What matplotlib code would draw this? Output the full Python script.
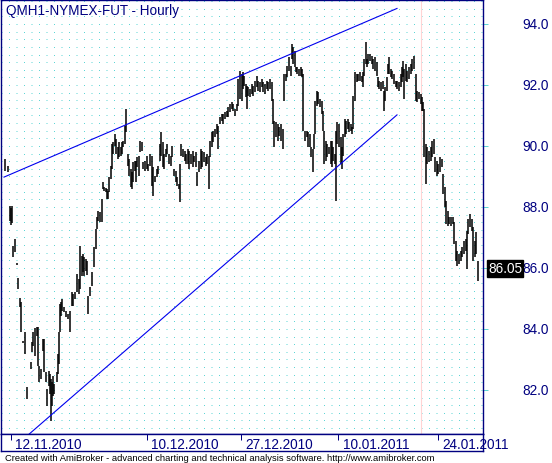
import matplotlib
matplotlib.use('Agg')
import matplotlib.pyplot as plt
from matplotlib.ticker import MultipleLocator

# ---------------- data (hourly bars) ----------------
bar = [0, 3, 5, 6, 7, 8, 10, 12, 13, 15,
       16, 18, 20, 22, 26, 27, 28, 30, 32, 33,
       34, 36, 38, 39, 41, 42, 44, 45, 46, 47,
       48, 49, 52, 53, 54, 55, 56, 57, 59, 61,
       63, 65, 67, 68, 70, 72, 74, 75, 77, 78,
       79, 81, 82, 83, 85, 87, 89, 91, 92, 93,
       95, 97, 98, 99, 101, 102, 103, 104, 106, 107,
       108, 110, 111, 113, 114, 116, 117, 118, 120, 121,
       123, 124, 126, 127, 128, 130, 131, 132, 134, 135,
       137, 138, 140, 142, 143, 145, 147, 148, 150, 152,
       153, 155, 156, 158, 159, 161, 162, 164, 166, 167,
       169, 171, 172, 174, 175, 176, 178, 180, 181, 183,
       184, 186, 188, 189, 191, 192, 194, 196, 197, 199,
       201, 202, 204, 205, 207, 208, 210, 212, 213, 215,
       217, 218, 220, 222, 223, 225, 227, 228, 230, 232,
       233, 235, 237, 238, 239, 241, 242, 243, 245, 247,
       248, 250, 252, 253, 255, 257, 258, 260, 262, 263,
       265, 267, 268, 269, 271, 273, 274, 276, 278, 279,
       281, 282, 284, 286, 287, 288, 290, 291, 292, 294,
       296, 297, 298, 300, 302, 303, 305, 306, 308, 309,
       310, 312, 313, 315, 317, 318, 319, 321, 322, 324,
       326, 327, 328, 330, 331, 332, 334, 336, 337, 338,
       340, 341, 343, 344, 346, 347, 348, 350, 352, 353,
       355, 357, 358, 359, 361, 362, 363, 365, 367, 368,
       370, 372, 373, 374, 376, 378, 379, 380, 382, 383,
       384, 386, 387, 389, 391, 392, 394, 396, 397, 398,
       399, 401, 402, 404, 406, 407, 409, 411, 412, 414,
       416, 417, 418, 419, 421, 422, 424, 426, 427, 429,
       430, 432, 433, 435, 437, 438, 440, 441, 443, 444,
       446, 448, 449, 451, 452, 454, 456, 457, 459, 461,
       462, 463, 465, 467, 468, 470, 471, 473]

high = [89.57, 89.34, 88.03, 87.97, 88.03, 86.72, 86.95, 86.16, 85.67, 85.02,
        84.88, 83.60, 83.90, 82.10, 82.92, 83.57, 83.90, 84.03, 84.07, 84.07,
        82.79, 82.69, 83.67, 83.67, 82.59, 82.03, 82.62, 82.52, 82.36, 82.26,
        82.46, 82.20, 82.59, 83.18, 83.90, 84.82, 84.88, 84.98, 84.72, 84.59,
        84.49, 84.59, 85.21, 85.15, 85.21, 85.80, 85.64, 86.72, 86.39, 86.46,
        86.36, 86.30, 86.23, 85.08, 85.38, 85.87, 86.69, 87.28, 87.67, 87.87,
        87.84, 88.26, 88.82, 88.66, 88.62, 88.59, 88.53, 88.98, 89.34, 90.07,
        90.13, 90.39, 90.23, 89.97, 90.13, 89.97, 90.13, 90.16, 90.66, 91.21,
        89.74, 89.57, 89.25, 89.15, 89.48, 89.51, 89.51, 89.64, 89.67, 90.16,
        90.13, 89.48, 89.51, 89.67, 89.41, 89.74, 89.67, 89.31, 89.02, 89.25,
        89.34, 90.07, 90.46, 90.13, 89.74, 89.90, 90.07, 89.74, 89.67, 90.00,
        89.25, 89.18, 88.98, 88.75, 89.41, 90.07, 89.90, 89.84, 89.74, 89.90,
        89.84, 89.74, 89.84, 89.67, 89.80, 89.15, 89.51, 89.90, 89.84, 89.80,
        89.64, 89.74, 89.67, 90.16, 90.46, 90.49, 90.56, 90.72, 90.66, 90.95,
        91.05, 91.05, 91.11, 91.15, 91.28, 91.38, 91.44, 91.38, 91.21, 91.38,
        92.20, 92.46, 92.36, 92.43, 92.30, 92.03, 91.97, 91.93, 91.87, 92.03,
        91.97, 92.13, 92.30, 92.13, 92.10, 92.20, 92.10, 92.03, 92.13, 92.10,
        92.20, 92.10, 91.54, 90.82, 90.79, 90.72, 90.62, 90.72, 90.56, 92.36,
        92.36, 92.62, 92.92, 92.62, 93.34, 93.25, 93.11, 92.59, 92.59, 92.52,
        92.59, 92.52, 92.36, 90.49, 90.49, 90.46, 90.39, 89.97, 89.90, 90.39,
        91.48, 91.80, 91.77, 91.54, 91.48, 91.15, 90.49, 90.16, 90.07, 89.97,
        90.16, 90.16, 89.97, 89.74, 90.49, 90.79, 90.72, 90.30, 89.97, 90.39,
        90.89, 90.82, 90.89, 90.79, 90.72, 90.62, 91.64, 92.43, 92.36, 92.36,
        92.43, 92.30, 92.43, 92.85, 93.41, 92.85, 93.02, 93.02, 92.95, 92.85,
        92.92, 92.75, 92.26, 92.13, 92.10, 92.13, 91.80, 91.93, 92.26, 92.69,
        92.92, 92.52, 92.46, 92.36, 92.13, 92.13, 92.10, 92.36, 92.59, 92.79,
        92.52, 92.69, 92.46, 92.59, 92.69, 92.85, 92.95, 92.36, 91.80, 91.77,
        91.70, 91.61, 91.44, 91.21, 90.07, 89.97, 89.84, 89.97, 90.16, 90.23,
        89.64, 89.51, 89.41, 89.64, 89.57, 89.08, 88.66, 88.20, 87.87, 87.67,
        87.67, 87.67, 87.51, 86.89, 86.56, 86.46, 86.56, 86.69, 86.89, 86.95,
        87.21, 87.61, 87.77, 87.61, 87.34, 86.89, 87.18, 86.23]

low = [89.18, 89.15, 87.54, 87.41, 87.47, 86.36, 86.52, 86.10, 85.31, 84.72,
       83.90, 83.54, 83.18, 81.70, 82.69, 83.24, 83.44, 83.11, 83.77, 82.79,
       82.26, 82.36, 83.28, 82.59, 82.26, 81.47, 82.13, 81.87, 80.98, 81.47,
       81.80, 81.87, 82.26, 82.52, 82.85, 83.90, 84.43, 84.59, 84.56, 84.39,
       84.33, 83.90, 84.75, 84.75, 84.98, 85.21, 85.15, 85.31, 85.74, 85.87,
       85.74, 85.90, 85.77, 84.49, 85.08, 85.41, 86.03, 86.62, 87.28, 87.54,
       87.51, 87.51, 88.59, 88.53, 88.49, 88.26, 88.26, 88.49, 88.92, 89.25,
       89.74, 90.00, 89.74, 89.57, 89.64, 89.67, 89.74, 89.97, 90.07, 90.46,
       89.34, 89.02, 88.66, 88.59, 88.82, 89.18, 88.82, 89.31, 89.02, 89.80,
       89.84, 89.25, 89.18, 89.25, 89.18, 89.34, 88.69, 88.36, 88.82, 88.98,
       89.08, 89.51, 89.67, 89.31, 89.25, 89.64, 89.74, 89.41, 89.34, 89.64,
       89.02, 88.82, 88.69, 88.59, 88.16, 89.67, 89.64, 89.51, 89.41, 89.41,
       89.25, 89.41, 89.31, 89.48, 89.31, 88.69, 89.15, 89.25, 89.31, 89.48,
       89.34, 89.41, 88.59, 89.64, 89.97, 90.13, 90.30, 90.39, 89.90, 90.72,
       90.82, 90.72, 90.89, 90.95, 90.95, 91.11, 91.21, 91.15, 90.98, 91.15,
       91.31, 91.54, 91.48, 91.87, 91.97, 91.61, 91.21, 91.64, 91.61, 91.70,
       91.64, 91.77, 91.93, 91.80, 91.77, 91.93, 91.77, 91.70, 91.87, 91.80,
       91.87, 91.48, 90.72, 89.97, 90.30, 90.16, 90.33, 90.16, 89.90, 91.48,
       92.13, 92.26, 92.46, 92.30, 92.85, 92.69, 92.59, 92.43, 92.36, 92.30,
       92.30, 92.26, 90.49, 90.16, 90.30, 89.97, 89.97, 89.64, 89.15, 89.90,
       90.39, 91.31, 91.38, 91.28, 91.05, 90.49, 89.41, 89.51, 89.64, 89.74,
       89.41, 89.31, 89.51, 89.41, 88.20, 90.07, 89.97, 89.41, 89.25, 89.67,
       90.30, 90.39, 90.56, 90.46, 90.49, 90.39, 90.56, 91.48, 92.10, 92.13,
       92.13, 92.10, 91.93, 92.30, 92.69, 92.59, 92.69, 92.79, 92.69, 92.52,
       92.46, 92.30, 91.93, 91.87, 91.80, 91.87, 91.15, 91.48, 91.80, 92.36,
       92.36, 92.26, 92.20, 92.03, 91.93, 91.87, 91.80, 91.93, 92.10, 92.26,
       91.54, 92.13, 92.10, 92.20, 92.36, 92.46, 92.52, 91.48, 91.44, 91.54,
       91.38, 91.15, 91.15, 89.64, 88.75, 89.41, 89.48, 89.51, 89.64, 89.74,
       89.15, 89.02, 89.08, 89.15, 89.31, 88.43, 88.00, 87.44, 87.38, 87.44,
       87.38, 87.44, 86.79, 86.23, 86.07, 86.13, 86.23, 86.36, 86.46, 86.56,
       85.97, 87.11, 87.34, 87.21, 86.23, 86.36, 86.46, 85.56]

last_close = 86.05

upper_line_bar = [-1, 392]
upper_line_price = [88.98, 94.51]
lower_line_bar = [24, 392]
lower_line_price = [80.55, 91.02]

date_bars = [6, 142, 236, 333, 433]
date_labels = ['12.11.2010', '10.12.2010', '27.12.2010', '10.01.2011', '24.01.2011']
price_ticks = [82, 84, 86, 88, 90, 92, 94]
price_labels = ['82.0', '84.0', '86.0', '88.0', '90.0', '92.0', '94.0']
marker_bar = 416

title = 'QMH1-NYMEX-FUT - Hourly'
footer = ('Created with AmiBroker - advanced charting and technical analysis '
          'software. http://www.amibroker.com')

assert len(bar) == len(high) == len(low)

# ---------------- figure ----------------
plt.rcParams['font.family'] = ['Liberation Sans', 'DejaVu Sans']
W, H = 552, 464
NAVY = '#000080'
CYAN = '#5fd6d6'
FS = 9.8
PX = 72 / 100  # points per pixel

fig = plt.figure(figsize=(W / 100, H / 100), dpi=100, facecolor='white')

ax = fig.add_axes([1 / W, 29 / H, 482 / W, 434 / H])
ax.set_xlim(-4, 478)
ax.set_ylim(80.557, 94.787)

# dotted lattice grid
ax.yaxis.set_minor_locator(MultipleLocator(0.25))
ax.grid(which='both', axis='y', color=CYAN, linewidth=0.72,
        linestyle=(0, (1, 6.5)))
ax.set_axisbelow(True)

ax.set_xticks([])
ax.yaxis.tick_right()
ax.set_yticks(price_ticks)
ax.tick_params(axis='y', which='major', length=5 * PX, width=0.72, color=CYAN,
               labelright=False, labelleft=False)
ax.tick_params(axis='y', which='minor', length=0)
for s in ax.spines.values():
    s.set_color(NAVY)
    s.set_linewidth(1.0)

# price labels on the right, right-aligned
for p, lab in zip(price_ticks, price_labels):
    ax.annotate(lab, xy=(1, p), xycoords=('axes fraction', 'data'),
                xytext=(66 * PX, 0), textcoords='offset points', ha='right',
                va='center', fontsize=FS, color=NAVY, annotation_clip=False,
                zorder=5)

ax.axvline(marker_bar, color='#ffd4d4', linewidth=0.8, zorder=1)

ax.vlines(bar, low, high, colors='black', linewidth=1.1, zorder=3)

ax.plot(upper_line_bar, upper_line_price, color='#0000ee', linewidth=0.8, zorder=4)
ax.plot(lower_line_bar, lower_line_price, color='#0000ee', linewidth=0.8, zorder=4)

ax.annotate(f'{last_close:.2f}', xy=(1, last_close),
            xycoords=('axes fraction', 'data'), xytext=(5 * PX, -2 * PX),
            textcoords='offset points', ha='left', va='center',
            fontsize=FS, color='white', annotation_clip=False, zorder=10,
            bbox=dict(boxstyle='square,pad=0.08', facecolor='black',
                      edgecolor='black'))

# date strip
ax2 = fig.add_axes([1 / W, 12 / H, 482 / W, 17 / H])
ax2.set_xlim(ax.get_xlim())
ax2.set_ylim(0, 1)
ax2.set_yticks([])
ax2.set_xticks(date_bars)
ax2.tick_params(axis='x', top=True, bottom=False, direction='in', length=6 * PX,
                width=0.72, color=NAVY, labelbottom=False)
for s in ax2.spines.values():
    s.set_color(NAVY)
    s.set_linewidth(1.0)
for b, lab in zip(date_bars, date_labels):
    ax2.annotate(lab, xy=(b, 0), xycoords=('data', 'axes fraction'),
                 xytext=(4.5 * PX, 3 * PX), textcoords='offset points', ha='left',
                 va='baseline', fontsize=FS, color=NAVY, annotation_clip=False)

t_title = fig.text(6 / W, 1 - 4 / H, title, ha='left', va='top', fontsize=FS,
                   color=NAVY)
t_foot = fig.text(5 / W, 2.5 / H, footer, ha='left', va='baseline',
                  fontsize=6.3, color='black')

fig.canvas.draw()
r = fig.canvas.get_renderer()
w = t_foot.get_window_extent(r).width
t_foot.set_fontsize(6.3 * 431 / w)
wt = t_title.get_window_extent(r).width
t_title.set_fontsize(FS * 174 / wt)

fig.savefig('out.png', dpi=100, facecolor='white')
